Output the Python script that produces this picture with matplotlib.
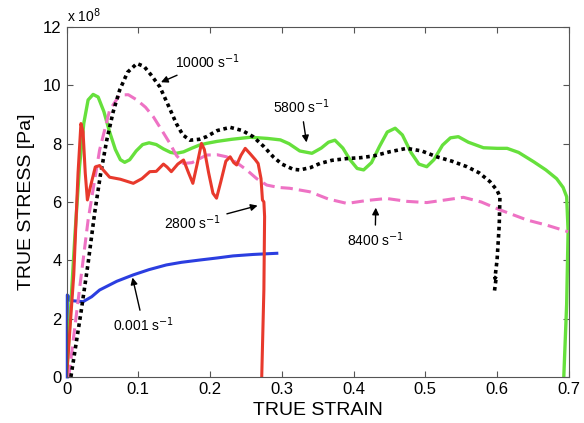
import matplotlib.pyplot as plt
import numpy as np

plt.rcParams['font.family'] = ['Liberation Sans', 'DejaVu Sans']

# stress values are in units of 1e8 Pa
x_5800 = [0.0, 0.006, 0.012, 0.018, 0.024, 0.030, 0.037, 0.044, 0.052, 0.060, 0.068, 0.075, 0.081,
          0.088, 0.097, 0.106, 0.115, 0.125, 0.135, 0.145, 0.153, 0.163, 0.175, 0.185, 0.195, 0.21,
          0.23, 0.256, 0.28, 0.298, 0.31, 0.325, 0.342, 0.355, 0.365, 0.374, 0.385, 0.395, 0.405,
          0.414, 0.425, 0.436, 0.447, 0.458, 0.468, 0.480, 0.491, 0.502, 0.512, 0.524, 0.535, 0.546,
          0.560, 0.581, 0.600, 0.614, 0.630, 0.651, 0.668, 0.683, 0.692, 0.697, 0.699, 0.697, 0.693]
y_5800 = [0.0, 2.5, 5.0, 7.2, 8.7, 9.5, 9.69, 9.6, 9.1, 8.4, 7.8, 7.45, 7.36,
          7.45, 7.75, 7.97, 8.03, 7.97, 7.82, 7.70, 7.67, 7.72, 7.85, 7.95, 8.01, 8.08,
          8.15, 8.22, 8.18, 8.13, 8.0, 7.75, 7.67, 7.85, 8.05, 8.12, 7.85, 7.45, 7.15,
          7.10, 7.35, 7.9, 8.4, 8.53, 8.3, 7.7, 7.3, 7.21, 7.45, 7.95, 8.2, 8.24,
          8.05, 7.86, 7.84, 7.84, 7.7, 7.38, 7.1, 6.8, 6.5, 6.18, 5.0, 2.5, 0.0]

x_2800 = [0.0, 0.010, 0.016, 0.020, 0.023, 0.026, 0.029, 0.033, 0.040, 0.046, 0.051, 0.060, 0.075,
          0.093, 0.105, 0.116, 0.125, 0.135, 0.140, 0.146, 0.155, 0.163, 0.170, 0.176, 0.182, 0.188,
          0.192, 0.198, 0.204, 0.209, 0.215, 0.222, 0.228, 0.233, 0.237, 0.243, 0.249, 0.256, 0.263,
          0.267, 0.271, 0.273, 0.275, 0.276, 0.275, 0.272]
y_2800 = [0.0, 3.5, 7.0, 8.69, 8.4, 7.0, 6.07, 6.5, 7.2, 7.25, 7.1, 6.85, 6.78,
          6.64, 6.8, 7.04, 7.05, 7.3, 7.2, 7.04, 7.3, 7.44, 7.0, 6.64, 7.3, 8.01,
          7.8, 7.0, 6.3, 6.13, 6.7, 7.4, 7.55, 7.35, 7.27, 7.6, 7.84, 7.65, 7.45,
          7.32, 6.8, 6.07, 6.0, 5.5, 3.0, 0.0]

x_10000 = [0.006, 0.020, 0.030, 0.039, 0.047, 0.056, 0.065, 0.074, 0.085, 0.098, 0.108, 0.118,
           0.130, 0.142, 0.153, 0.162, 0.172, 0.185, 0.195, 0.210, 0.228, 0.245, 0.260, 0.275,
           0.288, 0.300, 0.316, 0.325, 0.340, 0.353, 0.370, 0.391, 0.410, 0.428, 0.450, 0.474,
           0.495, 0.516, 0.537, 0.558, 0.575, 0.590, 0.600, 0.604, 0.603, 0.600, 0.597, 0.599,
           0.596]
y_10000 = [0.0, 2.2, 3.9, 5.6, 6.9, 8.12, 9.1, 9.84, 10.45, 10.75, 10.65, 10.35,
           9.95, 9.3, 8.69, 8.3, 8.12, 8.15, 8.24, 8.45, 8.56, 8.45, 8.24, 7.9,
           7.55, 7.3, 7.12, 7.10, 7.18, 7.32, 7.43, 7.49, 7.52, 7.58, 7.72, 7.84,
           7.75, 7.55, 7.4, 7.21, 7.0, 6.70, 6.4, 6.18, 5.2, 4.01, 3.38, 3.45,
           2.87]

x_8400 = [0.003, 0.018, 0.030, 0.046, 0.060, 0.074, 0.086, 0.098, 0.110, 0.121, 0.133, 0.144,
          0.153, 0.163, 0.175, 0.195, 0.210, 0.223, 0.237, 0.251, 0.265, 0.279, 0.295, 0.311,
          0.339, 0.365, 0.391, 0.418, 0.446, 0.475, 0.502, 0.528, 0.553, 0.578, 0.604, 0.642,
          0.670, 0.699]
y_8400 = [0.0, 3.0, 5.38, 7.78, 9.15, 9.67, 9.68, 9.50, 9.25, 8.92, 8.45, 8.01,
          7.6, 7.32, 7.35, 7.61, 7.62, 7.55, 7.35, 7.10, 6.8, 6.58, 6.5, 6.47,
          6.35, 6.1, 5.95, 6.05, 6.12, 6.02, 5.98, 6.07, 6.16, 6.0, 5.73, 5.38,
          5.2, 4.98]

x_0001 = [0.001, 0.001, 0.003, 0.005, 0.023, 0.035, 0.046, 0.070, 0.093, 0.115, 0.139, 0.160,
          0.186, 0.210, 0.232, 0.260, 0.293]
y_0001 = [0.0, 2.81, 2.75, 2.62, 2.58, 2.75, 2.98, 3.28, 3.50, 3.68, 3.84, 3.93,
          4.01, 4.08, 4.15, 4.20, 4.24]

fig = plt.figure(figsize=(5.84, 4.23), dpi=100)
ax = fig.add_axes([0.114, 0.109, 0.86, 0.827])

ax.plot(x_0001, y_0001, color='#2b3ee0', lw=2.2, clip_on=False)
ax.plot(x_5800, y_5800, color='#66e03c', lw=2.4)
ax.plot(x_8400, y_8400, color='#ee72c4', lw=2.2, ls=(0, (4, 2)))
ax.plot(x_10000, y_10000, color='black', lw=2.6, ls=(0, (1, 1)))
ax.plot(x_2800, y_2800, color='#e8392c', lw=2.2)

ax.set_xlim(0, 0.7)
ax.set_ylim(0, 12)
ax.set_xticks(np.arange(0, 0.71, 0.1))
ax.set_xticklabels(['0', '0.1', '0.2', '0.3', '0.4', '0.5', '0.6', '0.7'])
ax.set_yticks(np.arange(0, 13, 2))
ax.tick_params(direction='in', top=True, right=True, labelsize=12, length=4, color='#555555')
for s in ax.spines.values():
    s.set_color('#555555')
ax.set_xlabel('TRUE STRAIN', fontsize=14, labelpad=4)
ax.set_ylabel('TRUE STRESS [Pa]', fontsize=14, labelpad=6)
ax.text(0.0, 1.005, 'x 10$^{8}$', transform=ax.transAxes, fontsize=10, ha='left', va='bottom')

arrow = dict(arrowstyle='-|>', color='black', lw=1.0, mutation_scale=10)
notes = [
    ('10000 s$^{-1}$', (0.128, 10.07), (0.151, 10.8), 'left'),
    ('5800 s$^{-1}$', (0.335, 7.95), (0.327, 9.26), 'center'),
    ('2800 s$^{-1}$', (0.270, 5.90), (0.176, 5.28), 'center'),
    ('0.001 s$^{-1}$', (0.091, 3.50), (0.107, 1.78), 'center'),
    ('8400 s$^{-1}$', (0.431, 5.90), (0.430, 4.70), 'center'),
]
for label, tip, pos, ha in notes:
    ax.annotate(label, xy=tip, xytext=pos, fontsize=10, ha=ha, va='center',
                arrowprops=arrow)

plt.savefig('out.png', dpi=100)
